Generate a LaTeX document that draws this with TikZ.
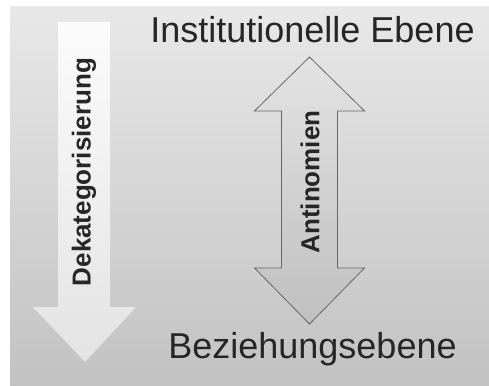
\documentclass[tikz,border=0pt]{standalone}
\usepackage{fontspec}
\setmainfont{Liberation Sans}

\begin{document}
\begin{tikzpicture}[
    x=1pt, y=-1pt,
    level/.style={font=\fontsize{36}{40}\selectfont, text=black!85, inner sep=0pt, anchor=base},
    arrowtext/.style={font=\fontsize{26}{30}\selectfont\bfseries, text=black!85, inner sep=0pt, rotate=90},
    downarrow/.style={top color=white!97!gray, bottom color=gray!22, draw=none},
    bothways/.style={top color=gray!22, bottom color=gray!50, draw=black!60, line width=0.8pt}
]
\useasboundingbox (0,0) rectangle (489,385);

% Background panel (bottom layer)
\fill[top color=gray!18, bottom color=gray!48] (10,7) rectangle (489,385);

% Left arrow pointing down
\path[downarrow] (58,22) -- (110,22) -- (110,307) -- (136,307) -- (85,362)
    -- (33,307) -- (58,307) -- cycle;
\node[arrowtext] (dekat) at (84,172) {Dekategorisierung};

% Double arrow between the two levels
\path[bothways] (309.5,57) -- (364.5,111) -- (337.5,111) -- (337.5,268) -- (364.5,268)
    -- (309.5,324) -- (254.5,268) -- (281.5,268) -- (281.5,111) -- (254.5,111) -- cycle;
\node[arrowtext] (antin) at (310,182) {Antinomien};

% Level labels
\node[level] (inst) at (312.5,43) {Institutionelle Ebene};
\node[level] (bez) at (312.5,358) {Beziehungsebene};

\end{tikzpicture}
\end{document}
